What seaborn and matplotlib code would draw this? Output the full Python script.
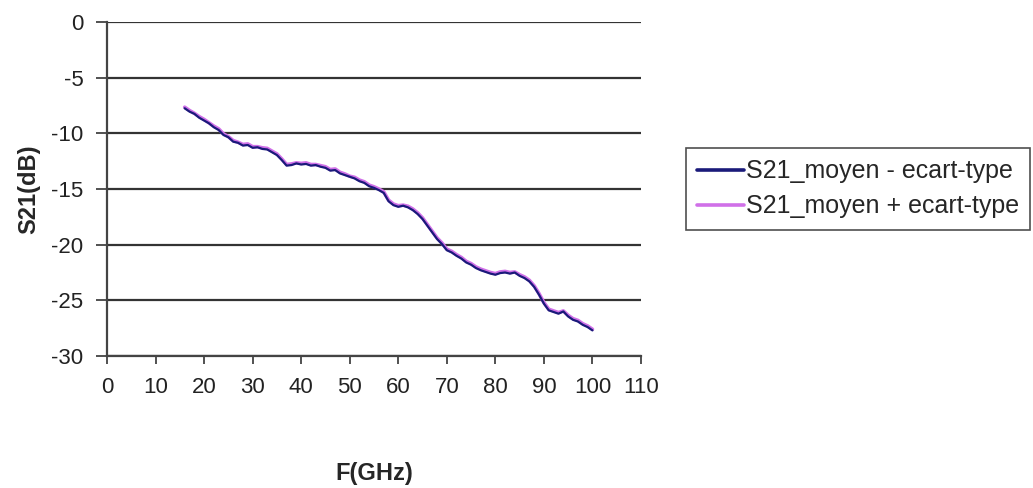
import numpy as np
import pandas as pd
import matplotlib
matplotlib.use("Agg")
import matplotlib.pyplot as plt
import seaborn as sns

# Frequency sweep (GHz) and the two S21 envelopes (dB)
freq_ghz = list(range(16, 101))

s21_minus_std = [
    -7.75, -8.05, -8.25, -8.60, -8.85, -9.10, -9.45, -9.70, -10.15, -10.35,
    -10.75, -10.85, -11.10, -11.05, -11.30, -11.25, -11.40, -11.45, -11.70, -11.95,
    -12.40, -12.90, -12.85, -12.70, -12.80, -12.75, -12.90, -12.85, -13.00, -13.10,
    -13.35, -13.30, -13.60, -13.75, -13.90, -14.05, -14.30, -14.45, -14.75, -14.90,
    -15.10, -15.35, -16.10, -16.45, -16.60, -16.50, -16.65, -16.90, -17.25, -17.70,
    -18.30, -18.90, -19.50, -19.95, -20.50, -20.70, -21.00, -21.25, -21.60, -21.80,
    -22.10, -22.30, -22.45, -22.60, -22.70, -22.55, -22.50, -22.60, -22.50, -22.80,
    -23.00, -23.30, -23.80, -24.50, -25.30, -25.90, -26.05, -26.20, -26.00, -26.45,
    -26.75, -26.90, -27.20, -27.40, -27.70,
]

s21_plus_std = [
    -7.65, -7.95, -8.20, -8.50, -8.75, -9.05, -9.35, -9.60, -10.05, -10.30,
    -10.65, -10.80, -11.00, -10.95, -11.20, -11.20, -11.30, -11.35, -11.60, -11.85,
    -12.30, -12.80, -12.75, -12.65, -12.70, -12.65, -12.80, -12.80, -12.90, -13.00,
    -13.25, -13.20, -13.50, -13.65, -13.85, -13.95, -14.20, -14.35, -14.65, -14.80,
    -15.00, -15.25, -16.00, -16.35, -16.50, -16.45, -16.55, -16.80, -17.15, -17.60,
    -18.20, -18.80, -19.40, -19.85, -20.40, -20.60, -20.90, -21.15, -21.50, -21.70,
    -22.00, -22.20, -22.35, -22.50, -22.60, -22.45, -22.40, -22.50, -22.45, -22.70,
    -22.90, -23.20, -23.70, -24.40, -25.20, -25.80, -25.95, -26.10, -25.95, -26.35,
    -26.65, -26.80, -27.10, -27.30, -27.60,
]

series_names = ["S21_moyen - ecart-type", "S21_moyen + ecart-type"]
series_colors = ["#1a1a7a", "#d070e8"]

x_ticks = list(range(0, 111, 10))
y_ticks = list(range(-30, 1, 5))

df = pd.DataFrame({
    "F": freq_ghz * 2,
    "S21": s21_minus_std + s21_plus_std,
    "serie": [series_names[0]] * len(freq_ghz) + [series_names[1]] * len(freq_ghz),
})

sns.set_theme(style="white")
plt.rcParams["font.family"] = ["Liberation Sans", "DejaVu Sans"]
plt.rcParams["axes.unicode_minus"] = False

fig = plt.figure(figsize=(10.33, 4.88), dpi=100)
ax = fig.add_axes([107 / 1033, 1 - 356 / 488, (641 - 107) / 1033, (356 - 22) / 488])

sns.lineplot(data=df, x="F", y="S21", hue="serie", hue_order=series_names,
             palette=series_colors, linewidth=1.6, ax=ax, legend=False)
# draw the dark envelope on top so the violet one shows at its edges
ax.lines[0].set_zorder(4)
ax.lines[1].set_zorder(3)
ax.lines[1].set_linewidth(2.6)

ax.set_xlim(0, 110)
ax.set_ylim(-30, 0)
ax.set_xticks(x_ticks)
ax.set_yticks(y_ticks)
ax.tick_params(axis="both", bottom=True, left=True, labelsize=16,
               color="#333333", labelcolor="#222222", width=1.2, direction="out")
ax.tick_params(axis="x", pad=9, length=6)
ax.tick_params(axis="y", pad=9, length=8)

ax.grid(axis="y", color="#333333", linewidth=1.6)
ax.grid(axis="x", visible=False)
ax.set_axisbelow(True)
for side in ["top", "right"]:
    ax.spines[side].set_visible(False)
for side in ["left", "bottom"]:
    ax.spines[side].set_color("#444444")
    ax.spines[side].set_linewidth(1.6)

ax.set_xlabel("F(GHz)", fontsize=17, fontweight="bold", labelpad=46)
ax.set_ylabel("S21(dB)", fontsize=17, fontweight="bold", labelpad=8)

handles = [plt.Line2D([], [], color=c, linewidth=2.6) for c in series_colors]
leg = fig.legend(handles, series_names, loc="upper left",
                 bbox_to_anchor=(686 / 1033, 1 - 148 / 488),
                 frameon=True, fancybox=False, fontsize=18,
                 handlelength=1.85, handletextpad=0.1, borderpad=0.45,
                 labelspacing=0.45, borderaxespad=0)
leg.get_frame().set_edgecolor("#222222")
leg.get_frame().set_linewidth(1.2)

fig.savefig("out.png", dpi=100)
